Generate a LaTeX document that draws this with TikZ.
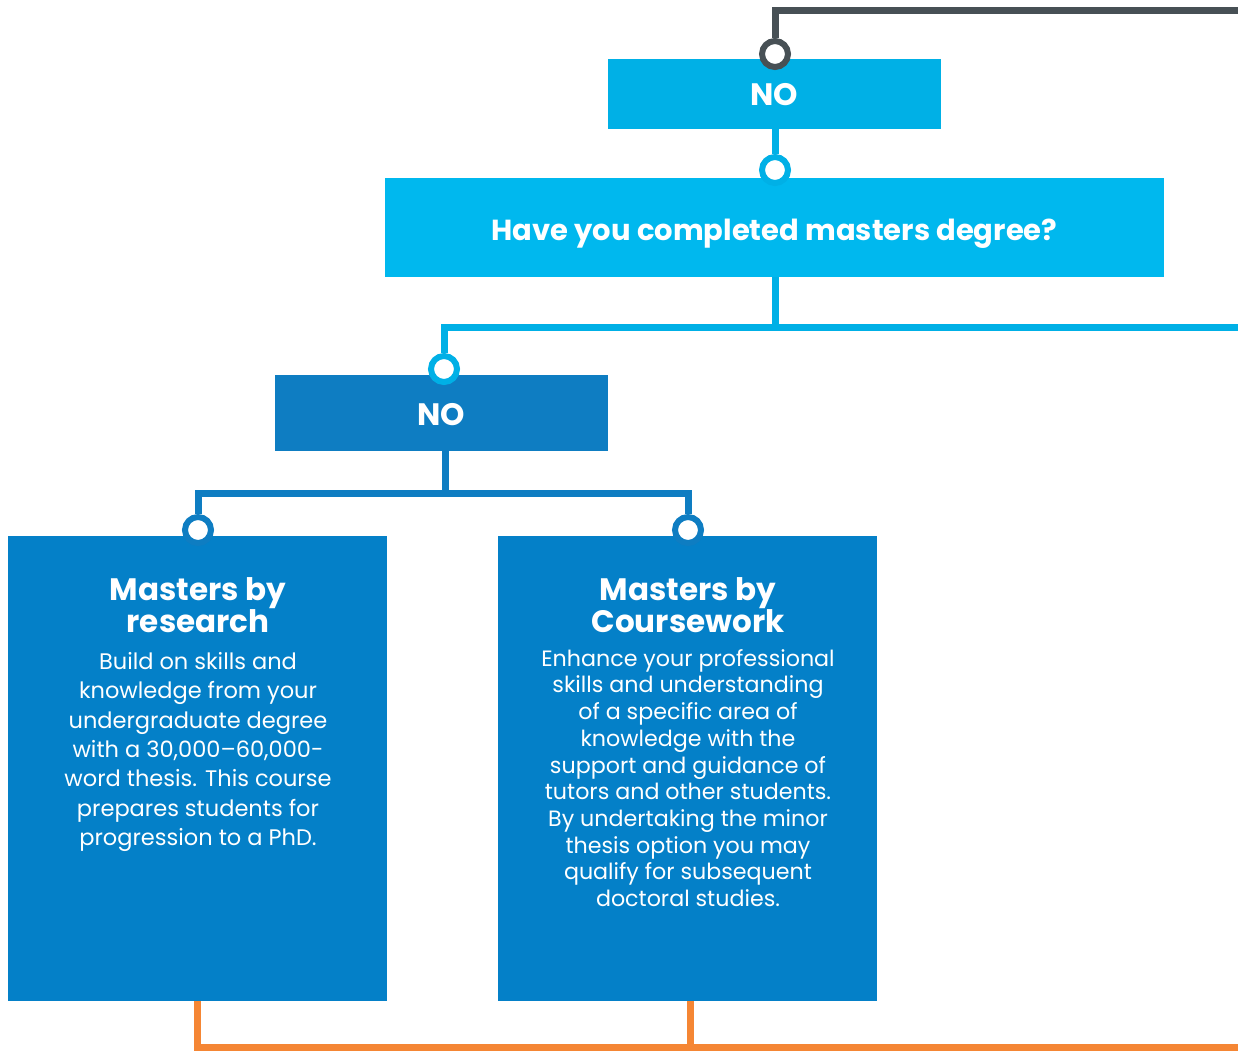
\documentclass[tikz,border=0pt]{standalone}
\usepackage{fontspec}
\setmainfont{Poppins}
\usetikzlibrary{backgrounds}
\definecolor{cgray}{HTML}{475055}
\definecolor{clight}{HTML}{00B0E6}
\definecolor{cbig}{HTML}{00B8EE}
\definecolor{cmid}{HTML}{0E7DC2}
\definecolor{cbox}{HTML}{0480C8}
\definecolor{corange}{HTML}{F58634}
\tikzset{
  box/.style={anchor=north west, inner sep=0pt},
  label/.style={text=white, inner sep=0pt, font=\fontsize{29}{31}\selectfont\bfseries},
  knob/.style={circle, draw, fill=white, line width=6pt, minimum size=26pt, inner sep=0pt},
  link/.style={line width=7pt},
  head/.style={text=white, align=center, font=\fontsize{31}{31}\selectfont\bfseries},
  body/.style={text=white, align=center},
}
\begin{document}
\begin{tikzpicture}[x=1pt,y=-1pt]
\useasboundingbox (0,0) rectangle (1238,1050);
% boxes
\node[box, fill=clight, minimum width=333pt, minimum height=70pt] (no1) at (608,59) {};
\node[box, fill=cbig, minimum width=779pt, minimum height=99pt] (big) at (385,178) {};
\node[box, fill=cmid, minimum width=333pt, minimum height=76pt] (no2) at (275,375) {};
\node[box, fill=cbox, minimum width=379pt, minimum height=465pt] (lbox) at (8,536) {};
\node[box, fill=cbox, minimum width=379pt, minimum height=465pt] (rbox) at (498,536) {};
% texts in boxes
\node[label, font=\fontsize{31}{31}\selectfont\bfseries] (tno1) at (774.5,95) {NO};
\node[label] (tbig) at (774.5,234) {Have you completed masters degree?};
\node[label, font=\fontsize{31}{31}\selectfont\bfseries] (tno2) at (441.5,415) {NO};
\node[head] (lhead) at (198,605) {Masters by\\research};
\node[head] (rhead) at (688,605) {Masters by\\Coursework};
\node[body, font=\fontsize{22.5}{29.3}\selectfont] (ltext) at (198,752) {Build on skills and\\knowledge from your\\undergraduate degree\\with a 30,000–60,000-\\word thesis. This course\\prepares students for\\progression to a PhD.};
\node[body, font=\fontsize{22.2}{26.7}\selectfont] (rtext) at (688,778) {Enhance your professional\\skills and understanding\\of a specific area of\\knowledge with the\\support and guidance of\\tutors and other students.\\By undertaking the minor\\thesis option you may\\qualify for subsequent\\doctoral studies.};
% knobs
\node[knob, draw=cgray] (c1) at (775,54) {};
\node[knob, draw=clight] (c2) at (775,170) {};
\node[knob, draw=clight] (c3) at (444,369) {};
\node[knob, draw=cmid] (c4) at (198,530) {};
\node[knob, draw=cmid] (c5) at (688,530) {};
% junctions
\coordinate (gtop) at (1238,10);
\coordinate (j1) at (775,327);
\coordinate (r1) at (1238,327);
\coordinate (j2) at (445,493);
\coordinate (ob) at (1238,1047);
\coordinate (o2) at (690,1047);
\begin{pgfonlayer}{background}
\draw[link, cgray] (gtop) -| (c1);
\draw[link, clight] (no1.south -| c2) -- (c2);
\draw[link, clight] (big.south -| j1) -- (j1);
\draw[link, clight] (r1) -| (c3);
\draw[link, cmid] (no2.south -| j2) -- (j2);
\draw[link, cmid] (c4) |- (j2) -| (c5);
\draw[link, corange] (lbox.south) |- (ob);
\draw[link, corange] (rbox.south -| o2) -- (o2);
\end{pgfonlayer}
\end{tikzpicture}
\end{document}
